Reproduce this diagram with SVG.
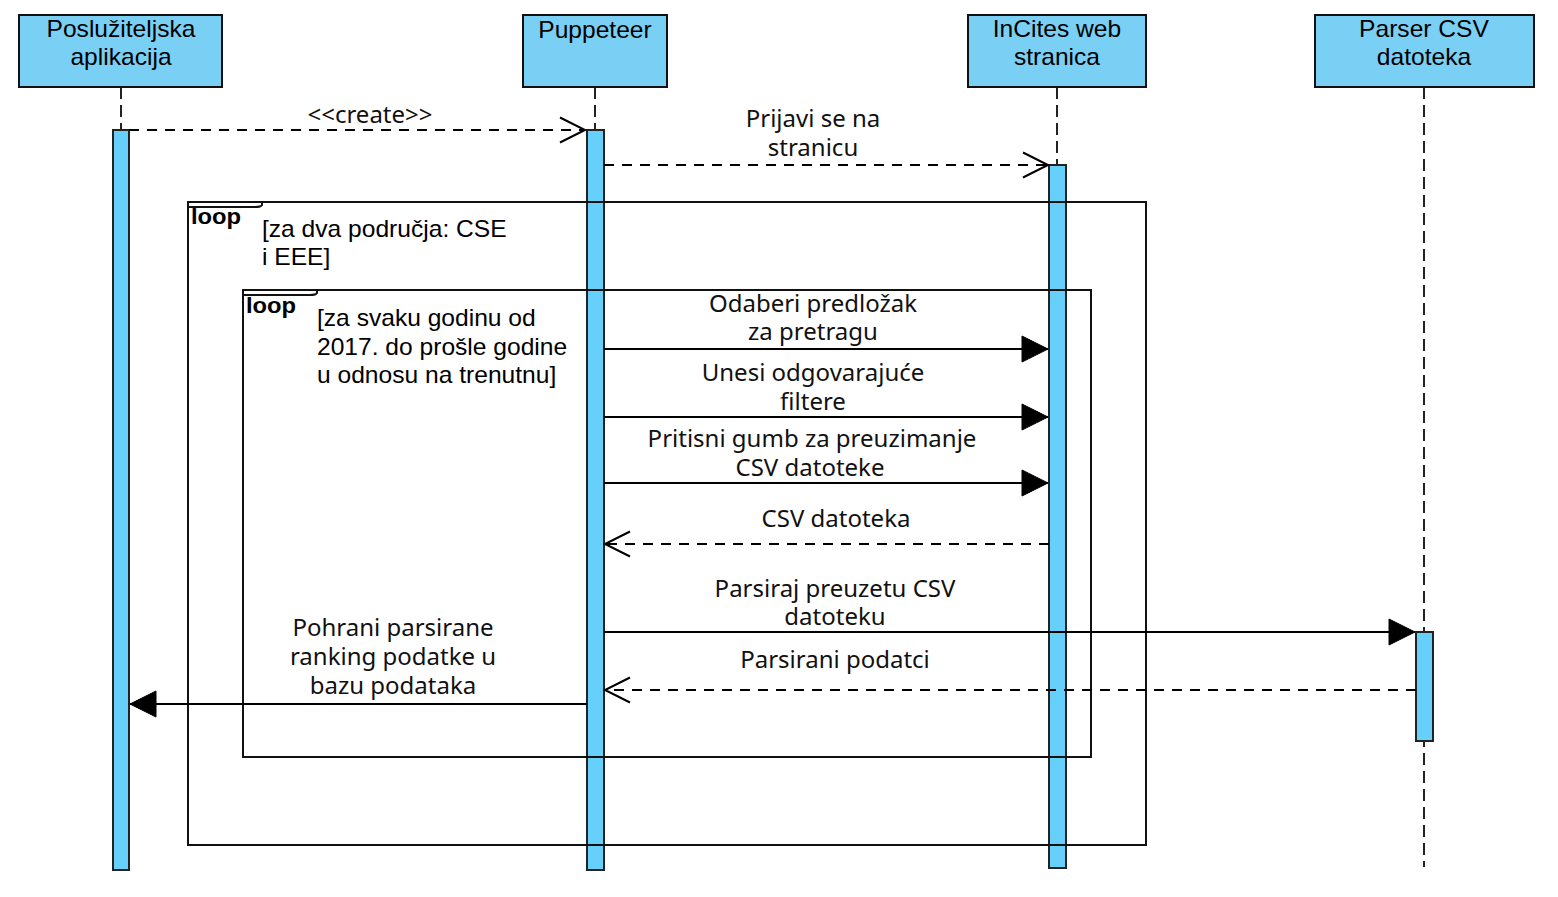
<svg xmlns="http://www.w3.org/2000/svg" width="1558" height="897" viewBox="0 0 1558 897">
<style>
.hdr{fill:#7acff5;stroke:#111;stroke-width:2}
.bar{fill:#66cffa;stroke:#222;stroke-width:2}
.life{stroke:#222;stroke-width:2;stroke-dasharray:12 6;fill:none}
.msg{stroke:#000;stroke-width:2;fill:none}
.dash{stroke-dasharray:10 8}
.frame{fill:none;stroke:#111;stroke-width:2}
.ht{font-family:"Liberation Sans",Arial,sans-serif;font-size:23px;fill:#000;text-anchor:middle}
.ct{font-family:"Liberation Sans",Arial,sans-serif;font-size:23px;fill:#000}
.lp{font-family:"Liberation Sans",Arial,sans-serif;font-size:22px;font-weight:bold;fill:#000}
.mt{font-family:"Noto Sans","Open Sans",sans-serif;font-size:24px;fill:#111;text-anchor:middle}
</style>
<defs>
<marker id="open" markerUnits="userSpaceOnUse" markerWidth="40" markerHeight="40" viewBox="-30 -20 40 40" refX="0" refY="0" orient="auto" overflow="visible">
<path d="M-25,-12.5 L0,0 L-25,12.5" fill="none" stroke="#000" stroke-width="2"/>
</marker>
<marker id="fill" markerUnits="userSpaceOnUse" markerWidth="40" markerHeight="40" viewBox="-30 -20 40 40" refX="0" refY="0" orient="auto" overflow="visible">
<path d="M-26,-13 L0,0 L-26,13 Z" fill="#000" stroke="#000" stroke-width="1"/>
</marker>
</defs>
<rect width="1558" height="897" fill="#fff"/>

<g id="lifelines">
<line class="life" x1="121" y1="87" x2="121" y2="130"/>
<line class="life" x1="595" y1="87" x2="595" y2="130"/>
<line class="life" x1="1057" y1="87" x2="1057" y2="165"/>
<line class="life" x1="1424" y1="87" x2="1424" y2="867"/>
</g>

<g id="node-posluziteljska">
<rect class="hdr" x="19" y="15" width="203" height="72"/>
<g transform="translate(121,0) scale(1.07,1) translate(-121,0)">
<text class="ht" x="121" y="37">Poslužiteljska</text>
<text class="ht" x="121" y="65">aplikacija</text>
</g>
<rect class="bar" x="113" y="130" width="16" height="740"/>
</g>
<g id="node-puppeteer">
<rect class="hdr" x="523" y="15" width="144" height="72"/>
<text class="ht" x="595" y="38" transform="translate(595,0) scale(1.07,1) translate(-595,0)">Puppeteer</text>
<rect class="bar" x="587" y="130" width="17" height="740"/>
</g>
<g id="node-incites">
<rect class="hdr" x="968" y="15" width="178" height="72"/>
<g transform="translate(1057,0) scale(1.07,1) translate(-1057,0)">
<text class="ht" x="1057" y="37">InCites web</text>
<text class="ht" x="1057" y="65">stranica</text>
</g>
<rect class="bar" x="1049" y="165" width="17" height="703"/>
</g>
<g id="node-parser">
<rect class="hdr" x="1315" y="15" width="219" height="72"/>
<g transform="translate(1424,0) scale(1.07,1) translate(-1424,0)">
<text class="ht" x="1424" y="37">Parser CSV</text>
<text class="ht" x="1424" y="65">datoteka</text>
</g>
<rect class="bar" x="1416" y="632" width="17" height="109"/>
</g>

<g id="loop-outer">
<rect class="frame" x="188" y="202" width="958" height="643"/>
<path class="frame" d="M188,202 H262 V205 Q261,207 255,207 H188"/>
<text class="lp" x="191" y="224" transform="translate(191,0) scale(1.08,1) translate(-191,0)">loop</text>
<g transform="translate(262,0) scale(1.07,1) translate(-262,0)">
<text class="ct" x="262" y="237">[za dva područja: CSE</text>
<text class="ct" x="262" y="265">i EEE]</text>
</g>
</g>
<g id="loop-inner">
<rect class="frame" x="243" y="290" width="848" height="467"/>
<path class="frame" d="M243,290 H317 V293 Q316,295 310,295 H243"/>
<text class="lp" x="246" y="313" transform="translate(246,0) scale(1.08,1) translate(-246,0)">loop</text>
<g transform="translate(317,0) scale(1.07,1) translate(-317,0)">
<text class="ct" x="317" y="326">[za svaku godinu od</text>
<text class="ct" x="317" y="355">2017. do prošle godine</text>
<text class="ct" x="317" y="383">u odnosu na trenutnu]</text>
</g>
</g>

<g id="connectors">
<line class="msg dash" x1="129" y1="130" x2="585" y2="130" marker-end="url(#open)"/>
<text class="mt" x="370" y="123">&lt;&lt;create&gt;&gt;</text>

<line class="msg dash" x1="604" y1="165" x2="1048" y2="165" marker-end="url(#open)"/>
<text class="mt" x="813" y="127">Prijavi se na</text>
<text class="mt" x="813" y="156">stranicu</text>

<line class="msg" x1="604" y1="349" x2="1048" y2="349" marker-end="url(#fill)"/>
<text class="mt" x="813" y="312">Odaberi predložak</text>
<text class="mt" x="813" y="340">za pretragu</text>

<line class="msg" x1="604" y1="417" x2="1048" y2="417" marker-end="url(#fill)"/>
<text class="mt" x="813" y="381">Unesi odgovarajuće</text>
<text class="mt" x="813" y="410">filtere</text>

<line class="msg" x1="604" y1="483" x2="1048" y2="483" marker-end="url(#fill)"/>
<text class="mt" x="812" y="447">Pritisni gumb za preuzimanje</text>
<text class="mt" x="810" y="476">CSV datoteke</text>

<line class="msg dash" x1="1049" y1="544" x2="605" y2="544" marker-end="url(#open)"/>
<text class="mt" x="836" y="527">CSV datoteka</text>

<line class="msg" x1="604" y1="632" x2="1415" y2="632" marker-end="url(#fill)"/>
<text class="mt" x="835" y="597">Parsiraj preuzetu CSV</text>
<text class="mt" x="835" y="625">datoteku</text>

<line class="msg dash" x1="1416" y1="690" x2="605" y2="690" marker-end="url(#open)"/>
<text class="mt" x="835" y="668">Parsirani podatci</text>

<line class="msg" x1="587" y1="704" x2="130" y2="704" marker-end="url(#fill)"/>
<text class="mt" x="393" y="636">Pohrani parsirane</text>
<text class="mt" x="393" y="665">ranking podatke u</text>
<text class="mt" x="393" y="694">bazu podataka</text>
</g>
</svg>
